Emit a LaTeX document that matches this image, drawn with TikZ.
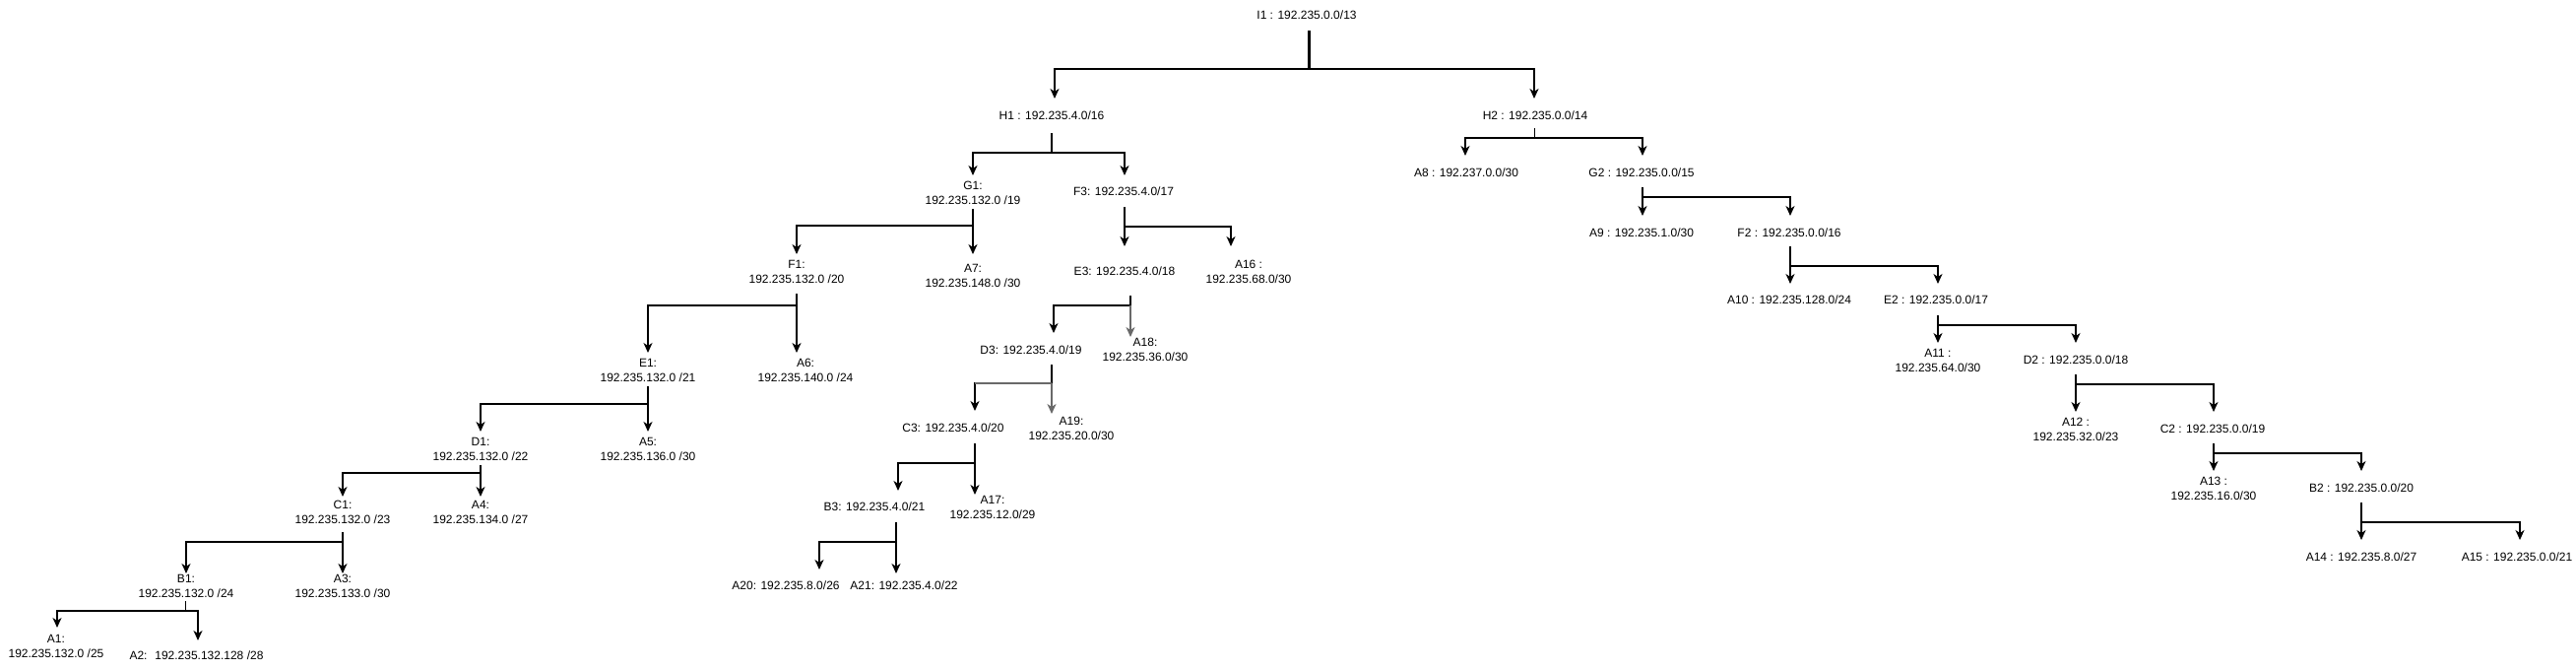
\documentclass[tikz,border=0pt]{standalone}
\usepackage{fontspec}
\setmainfont{Liberation Sans}
\usetikzlibrary{arrows.meta}
\definecolor{edgegray}{RGB}{105,105,105}
\begin{document}
\begin{tikzpicture}[x=1pt,y=-1pt,
  lbl/.style={inner sep=0pt, align=center, font=\fontsize{12}{15}\selectfont},
  link/.style={line width=1.25pt, -{Stealth[length=10pt,width=9pt,inset=3pt]}},
  stem/.style={line width=1.25pt},
  thinstem/.style={line width=0.8pt},
  thickstem/.style={line width=3pt},
]
\useasboundingbox (0,0) rectangle (2616,680);
\fill[white] (0,0) rectangle (2616,680);

% ---------- labels ----------
\node[lbl] (I1) at (1327,15) {I1 : 192.235.0.0/13};
\node[lbl] (H1) at (1068,117) {H1 : 192.235.4.0/16};
\node[lbl] (H2) at (1559,117) {H2 : 192.235.0.0/14};
\node[lbl] (G1) at (988,195.5) {G1:\\192.235.132.0 /19};
\node[lbl] (F3) at (1141,194) {F3: 192.235.4.0/17};
\node[lbl] (F1) at (809,275.5) {F1:\\192.235.132.0 /20};
\node[lbl] (A7) at (988,279.5) {A7:\\192.235.148.0 /30};
\node[lbl] (E3) at (1142,275) {E3: 192.235.4.0/18};
\node[lbl] (A16) at (1268,275.5) {A16 :\\192.235.68.0/30};
\node[lbl] (E1) at (658,375.5) {E1:\\192.235.132.0 /21};
\node[lbl] (A6) at (818,375.5) {A6:\\192.235.140.0 /24};
\node[lbl] (D3) at (1047,355) {D3: 192.235.4.0/19};
\node[lbl] (A18) at (1163,354.5) {A18:\\192.235.36.0/30};
\node[lbl] (D1) at (488,455.5) {D1:\\192.235.132.0 /22};
\node[lbl] (A5) at (658,455.5) {A5:\\192.235.136.0 /30};
\node[lbl] (C3) at (968,434) {C3: 192.235.4.0/20};
\node[lbl] (A19) at (1088,435) {A19:\\192.235.20.0/30};
\node[lbl] (C1) at (348,520) {C1:\\192.235.132.0 /23};
\node[lbl] (A4) at (488,520) {A4:\\192.235.134.0 /27};
\node[lbl] (B3) at (888,514) {B3: 192.235.4.0/21};
\node[lbl] (A17) at (1008,515) {A17:\\192.235.12.0/29};
\node[lbl] (B1) at (189,595) {B1:\\192.235.132.0 /24};
\node[lbl] (A3) at (348,595) {A3:\\192.235.133.0 /30};
\node[lbl] (A20) at (798,594) {A20: 192.235.8.0/26};
\node[lbl] (A21) at (918,594) {A21: 192.235.4.0/22};
\node[lbl] (A1) at (57,655.5) {A1:\\192.235.132.0 /25};
\node[lbl] (A2) at (199.5,665) {A2:~ 192.235.132.128 /28};
\node[lbl] (A8) at (1489,175) {A8 : 192.237.0.0/30};
\node[lbl] (G2) at (1667,175) {G2 : 192.235.0.0/15};
\node[lbl] (A9) at (1667,236) {A9 : 192.235.1.0/30};
\node[lbl] (F2) at (1817,236) {F2 : 192.235.0.0/16};
\node[lbl] (A10) at (1817,304) {A10 : 192.235.128.0/24};
\node[lbl] (E2) at (1966,304) {E2 : 192.235.0.0/17};
\node[lbl] (A11) at (1968,365.5) {A11 :\\192.235.64.0/30};
\node[lbl] (D2) at (2108,365) {D2 : 192.235.0.0/18};
\node[lbl] (A12) at (2108,435.5) {A12 :\\192.235.32.0/23};
\node[lbl] (C2) at (2247,435) {C2 : 192.235.0.0/19};
\node[lbl] (A13) at (2248,495.5) {A13 :\\192.235.16.0/30};
\node[lbl] (B2) at (2398,495) {B2 : 192.235.0.0/20};
\node[lbl] (A14) at (2398,565) {A14 : 192.235.8.0/27};
\node[lbl] (A15) at (2556,565) {A15 : 192.235.0.0/21};

% ---------- stems (s) and junctions (j) of parents ----------
\coordinate (I1-s) at (1329,31);  \coordinate (I1-j) at (1329,70);
\coordinate (H1-s) at (1068,135); \coordinate (H1-j) at (1068,155);
\coordinate (H2-s) at (1558,130); \coordinate (H2-j) at (1558,140);
\coordinate (G1-s) at (988,212);  \coordinate (G1-j) at (988,229);
\coordinate (F3-s) at (1142,210); \coordinate (F3-j) at (1142,230);
\coordinate (F1-s) at (809,298);  \coordinate (F1-j) at (809,310);
\coordinate (E3-s) at (1148,300); \coordinate (E3-j) at (1148,310);
\coordinate (E1-s) at (658,392);  \coordinate (E1-j) at (658,410);
\coordinate (D3-s) at (1068,370); \coordinate (D3-j) at (1068,389);
\coordinate (D1-s) at (488,472);  \coordinate (D1-j) at (488,480);
\coordinate (C3-s) at (990,450);  \coordinate (C3-j) at (990,470);
\coordinate (C1-s) at (348,540);  \coordinate (C1-j) at (348,550);
\coordinate (B3-s) at (910,530);  \coordinate (B3-j) at (910,550);
\coordinate (B1-s) at (188,610);  \coordinate (B1-j) at (188,620);
\coordinate (G2-s) at (1668,190); \coordinate (G2-j) at (1668,200);
\coordinate (F2-s) at (1818,250); \coordinate (F2-j) at (1818,270);
\coordinate (E2-s) at (1968,320); \coordinate (E2-j) at (1968,330);
\coordinate (D2-s) at (2108,380); \coordinate (D2-j) at (2108,390);
\coordinate (C2-s) at (2248,450); \coordinate (C2-j) at (2248,460);
\coordinate (B2-s) at (2398,510); \coordinate (B2-j) at (2398,530);

% ---------- arrow tips of children ----------
\coordinate (H1-t) at (1071,100);  \coordinate (H2-t) at (1558,100);
\coordinate (G1-t) at (988,178);   \coordinate (F3-t) at (1142,178);
\coordinate (A8-t) at (1488,158);  \coordinate (G2-t) at (1668,158);
\coordinate (F1-t) at (809,258);   \coordinate (A7-t) at (988,258);
\coordinate (E3-t) at (1142,250);  \coordinate (A16-t) at (1250,250);
\coordinate (E1-t) at (658,358);   \coordinate (A6-t) at (809,358);
\coordinate (D3-t) at (1070,338);  \coordinate (A18-t) at (1148,342);
\coordinate (D1-t) at (488,438);   \coordinate (A5-t) at (658,438);
\coordinate (C3-t) at (990,417);   \coordinate (A19-t) at (1068,420);
\coordinate (C1-t) at (348,504);   \coordinate (A4-t) at (488,504);
\coordinate (B3-t) at (912,498);   \coordinate (A17-t) at (990,502);
\coordinate (B1-t) at (189,582);   \coordinate (A3-t) at (348,582);
\coordinate (A20-t) at (832,578);  \coordinate (A21-t) at (910,582);
\coordinate (A1-t) at (58,637);    \coordinate (A2-t) at (201,650);
\coordinate (A9-t) at (1668,219);  \coordinate (F2-t) at (1818,219);
\coordinate (A10-t) at (1818,288); \coordinate (E2-t) at (1968,288);
\coordinate (A11-t) at (1968,348); \coordinate (D2-t) at (2108,348);
\coordinate (A12-t) at (2108,418); \coordinate (C2-t) at (2248,418);
\coordinate (A13-t) at (2248,478); \coordinate (B2-t) at (2398,478);
\coordinate (A14-t) at (2398,548); \coordinate (A15-t) at (2559,548);

% ---------- connectors ----------
\draw[thickstem] (I1-s) -- (I1-j);
\draw[link] (I1-j) -| (H1-t);
\draw[link] (I1-j) -| (H2-t);

\draw[stem] (H1-s) -- (H1-j);
\draw[link] (H1-j) -| (G1-t);
\draw[link] (H1-j) -| (F3-t);

\draw[thinstem] (H2-s) -- (H2-j);
\draw[link] (H2-j) -| (A8-t);
\draw[link] (H2-j) -| (G2-t);

\draw[stem] (G1-s) -- (G1-j);
\draw[link] (G1-j) -| (F1-t);
\draw[link] (G1-j) -| (A7-t);

\draw[stem] (F3-s) -- (F3-j);
\draw[link] (F3-j) -| (E3-t);
\draw[link] (F3-j) -| (A16-t);

\draw[stem] (F1-s) -- (F1-j);
\draw[link] (F1-j) -| (E1-t);
\draw[link] (F1-j) -| (A6-t);

\draw[stem, line width=2pt] (E3-s) -- (E3-j);
\draw[link] (E3-j) -| (D3-t);
\draw[link, edgegray] (E3-j) -- (A18-t);

\draw[stem] (E1-s) -- (E1-j);
\draw[link] (E1-j) -| (D1-t);
\draw[link] (E1-j) -| (A5-t);

\draw[stem, line width=2pt] (D3-s) -- (D3-j);
\draw[link] (D3-j) -| (C3-t);
\draw[stem, edgegray] (D3-j) -- (C3-t |- D3-j);
\draw[link, edgegray] (D3-j) -- (A19-t);

\draw[stem] (D1-s) -- (D1-j);
\draw[link] (D1-j) -| (C1-t);
\draw[link] (D1-j) -| (A4-t);

\draw[stem] (C3-s) -- (C3-j);
\draw[link] (C3-j) -| (B3-t);
\draw[link] (C3-j) -| (A17-t);

\draw[stem] (C1-s) -- (C1-j);
\draw[link] (C1-j) -| (B1-t);
\draw[link] (C1-j) -| (A3-t);

\draw[stem] (B3-s) -- (B3-j);
\draw[link] (B3-j) -| (A20-t);
\draw[link] (B3-j) -| (A21-t);

\draw[thinstem] (B1-s) -- (B1-j);
\draw[link] (B1-j) -| (A1-t);
\draw[link] (B1-j) -| (A2-t);

\draw[stem] (G2-s) -- (G2-j);
\draw[link] (G2-j) -| (A9-t);
\draw[link] (G2-j) -| (F2-t);

\draw[stem] (F2-s) -- (F2-j);
\draw[link] (F2-j) -| (A10-t);
\draw[link] (F2-j) -| (E2-t);

\draw[stem] (E2-s) -- (E2-j);
\draw[link] (E2-j) -| (A11-t);
\draw[link] (E2-j) -| (D2-t);

\draw[stem] (D2-s) -- (D2-j);
\draw[link] (D2-j) -| (A12-t);
\draw[link] (D2-j) -| (C2-t);

\draw[stem] (C2-s) -- (C2-j);
\draw[link] (C2-j) -| (A13-t);
\draw[link] (C2-j) -| (B2-t);

\draw[stem] (B2-s) -- (B2-j);
\draw[link] (B2-j) -| (A14-t);
\draw[link] (B2-j) -| (A15-t);
\end{tikzpicture}
\end{document}
